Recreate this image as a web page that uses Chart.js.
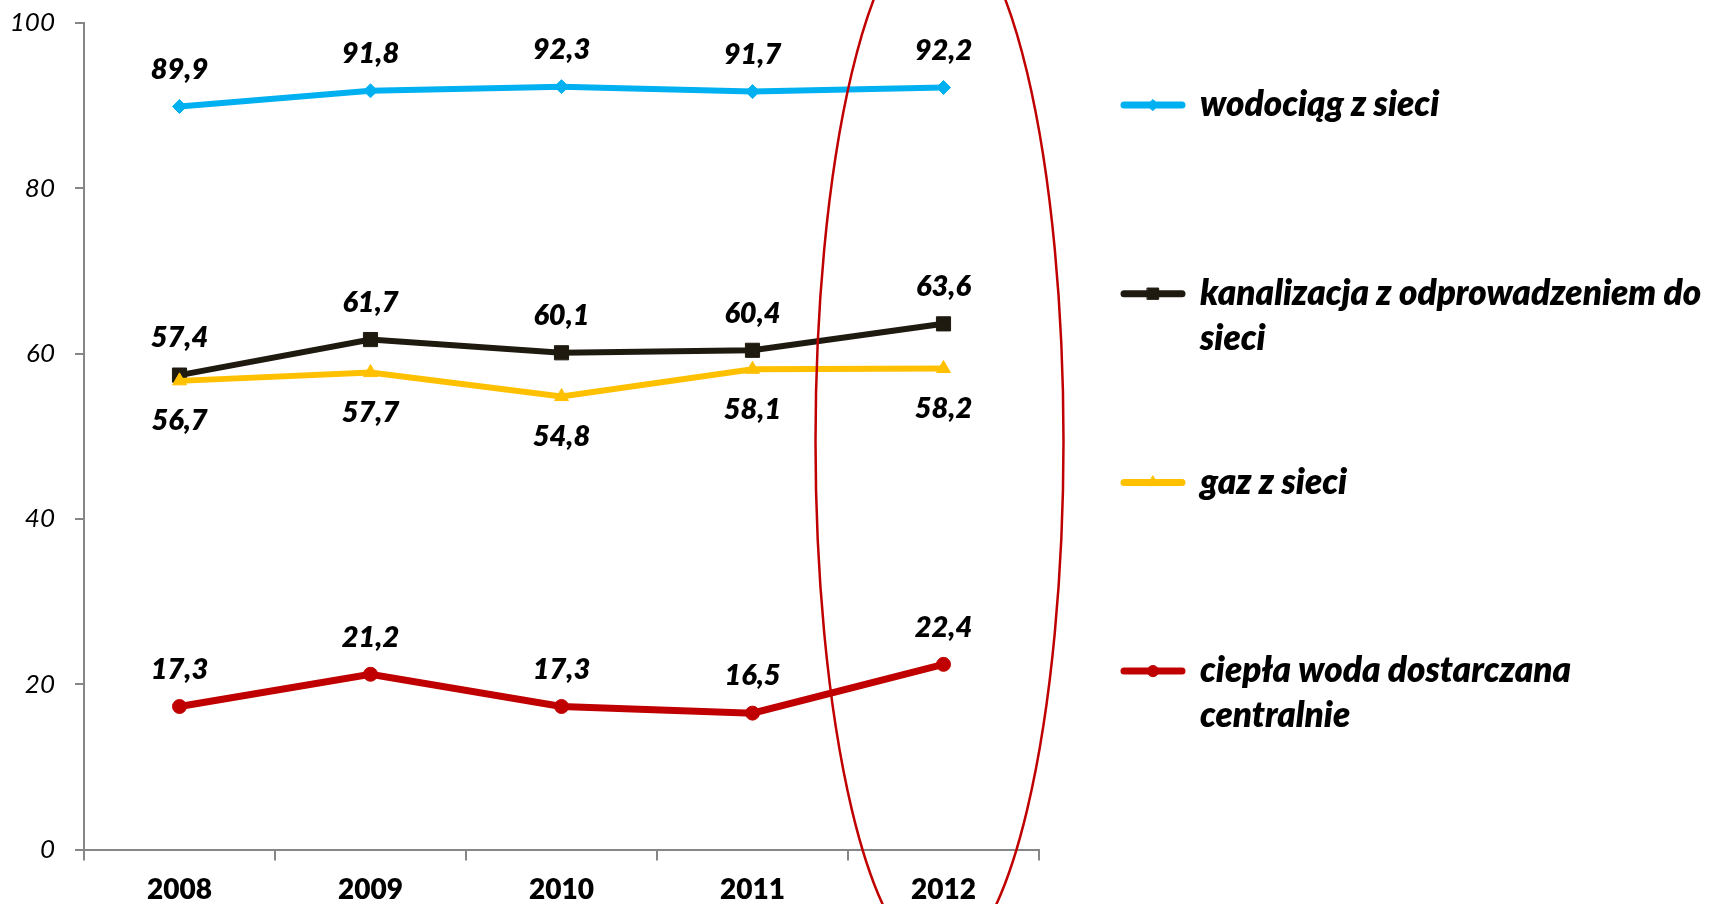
<!DOCTYPE html>
<html>
<head>
<meta charset="utf-8">
<script src="https://cdn.jsdelivr.net/npm/chart.js@4"></script>
<style>
  html, body { margin: 0; padding: 0; background: #fff; }
  #wrap { width: 1727px; height: 904px; }
</style>
</head>
<body>
<div id="wrap"><canvas id="chart" width="1727" height="904"></canvas></div>
<script>
// data
const years = ["2008", "2009", "2010", "2011", "2012"];
const waterSupply = [89.9, 91.8, 92.3, 91.7, 92.2];
const sewerage = [57.4, 61.7, 60.1, 60.4, 63.6];
const gasSupply = [56.7, 57.7, 54.8, 58.1, 58.2];
const hotWater = [17.3, 21.2, 17.3, 16.5, 22.4];
const seriesNames = [
  "wodociąg z sieci",
  "kanalizacja z odprowadzeniem do sieci",
  "gaz z sieci",
  "ciepła woda dostarczana centralnie"
];
const yTicks = [0, 20, 40, 60, 80, 100];

const FONT = "Lato";
const AXIS_GRAY = "#868686";

/* value labels next to each point */
const pointLabels = {
  id: "pointLabels",
  afterDatasetsDraw(chart) {
    const ctx = chart.ctx;
    ctx.save();
    ctx.font = "italic 800 29px " + FONT;
    ctx.fillStyle = "#000";
    ctx.textAlign = "center";
    ctx.textBaseline = "middle";
    chart.data.datasets.forEach((ds, i) => {
      chart.getDatasetMeta(i).data.forEach((pt, j) => {
        const dy = ds.labelPos === "below" ? 40 : -37;
        ctx.fillText(ds.data[j].toFixed(1).replace(".", ","), pt.x, pt.y + dy);
      });
    });
    ctx.restore();
  }
};

/* legend on the right, wrapped text */
const sideLegend = {
  id: "sideLegend",
  afterDraw(chart) {
    const ctx = chart.ctx;
    const x0 = 1124, x1 = 1182, tx = 1200, top = 105, step = 188.7, lh = 45;
    const maxW = chart.width - tx;
    ctx.save();
    chart.data.datasets.forEach((ds, i) => {
      const y = top + step * i;
      ctx.strokeStyle = ds.borderColor;
      ctx.lineWidth = 7;
      ctx.lineCap = "round";
      ctx.beginPath();
      ctx.moveTo(x0, y);
      ctx.lineTo(x1, y);
      ctx.stroke();
      ctx.fillStyle = ds.borderColor;
      ctx.lineWidth = 1;
      Chart.helpers.drawPoint(ctx, {
        pointStyle: ds.pointStyle, radius: ds.pointRadius * 0.8, rotation: 0, borderWidth: 1
      }, (x0 + x1) / 2, y);

      ctx.font = "italic 800 35px " + FONT;
      ctx.fillStyle = "#000";
      ctx.textAlign = "left";
      ctx.textBaseline = "middle";
      const words = ds.label.split(" ");
      const lines = [];
      let cur = "";
      words.forEach(w => {
        const test = cur ? cur + " " + w : w;
        if (cur && ctx.measureText(test).width > maxW) { lines.push(cur); cur = w; }
        else cur = test;
      });
      lines.push(cur);
      lines.forEach((l, k) => ctx.fillText(l, tx, y + k * lh));
    });
    ctx.restore();
  }
};

/* red ellipse highlighting 2012 */
const highlight = {
  id: "highlight",
  afterDraw(chart) {
    const { ctx, scales: { x, y } } = chart;
    const cx = x.getPixelForValue(years.length - 1) - 4;
    const cy = y.getPixelForValue(49.4);
    ctx.save();
    ctx.strokeStyle = "#C00000";
    ctx.lineWidth = 2.5;
    ctx.beginPath();
    ctx.ellipse(cx, cy, 124, 521, 0, 0, Math.PI * 2);
    ctx.stroke();
    ctx.restore();
  }
};

function series(label, data, color, style, radius, width, labelPos, order) {
  return {
    label, data, labelPos, order,
    borderColor: color,
    backgroundColor: color,
    borderWidth: width,
    pointStyle: style,
    pointRadius: radius,
    pointHoverRadius: radius,
    pointBorderWidth: 1,
    tension: 0
  };
}

new Chart(document.getElementById("chart"), {
  type: "line",
  data: {
    labels: years,
    datasets: [
      series(seriesNames[0], waterSupply, "#00B0F0", "rectRot", 7, 6, "above", 3),
      series(seriesNames[1], sewerage, "#1F1A0F", "rect", 10, 6, "above", 2),
      series(seriesNames[2], gasSupply, "#FFC000", "triangle", 8, 6, "below", 1),
      series(seriesNames[3], hotWater, "#C00000", "circle", 7, 7, "above", 0)
    ]
  },
  options: {
    responsive: false,
    devicePixelRatio: 1,
    animation: false,
    layout: { padding: { top: 23, right: 688, left: 0, bottom: 0 } },
    plugins: { legend: { display: false }, tooltip: { enabled: false } },
    scales: {
      x: {
        offset: true,
        grid: { offset: true, drawOnChartArea: false, drawTicks: true, tickLength: 11, color: AXIS_GRAY, lineWidth: 2 },
        border: { color: AXIS_GRAY, width: 2 },
        ticks: { color: "#000", font: { family: FONT, size: 28, weight: "800" }, padding: 13, maxRotation: 0 },
        afterFit: s => { s.height = 54.5; s.paddingLeft = 0; s.paddingRight = 0; }
      },
      y: {
        min: 0,
        max: 100,
        afterBuildTicks: s => { s.ticks = yTicks.map(v => ({ value: v })); },
        grid: { drawOnChartArea: false, drawTicks: true, tickLength: 9, color: AXIS_GRAY, lineWidth: 2 },
        border: { color: AXIS_GRAY, width: 2 },
        ticks: { color: "#000", font: { family: FONT, size: 26, style: "italic" }, padding: 20 },
        afterFit: s => { s.width = 84; s.paddingTop = 0; s.paddingBottom = 0; }
      }
    }
  },
  plugins: [pointLabels, sideLegend, highlight]
});
</script>
</body>
</html>
